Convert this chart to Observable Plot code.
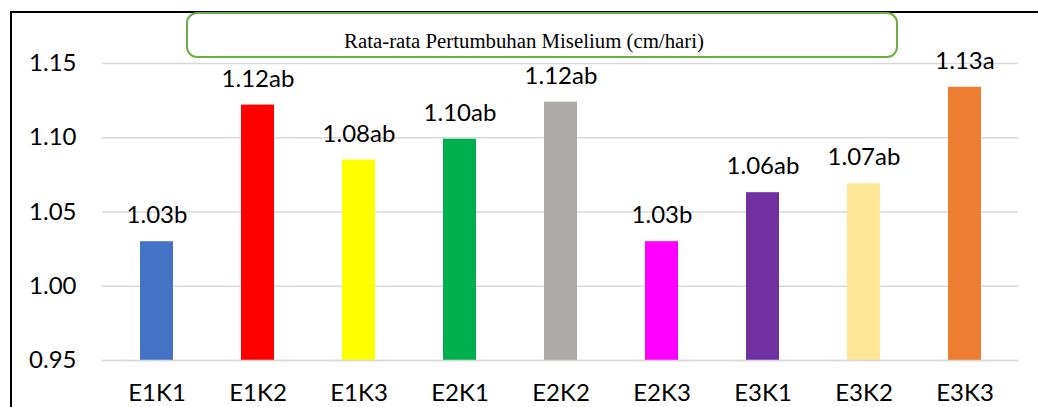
<!DOCTYPE html>
<html>
<head>
<meta charset="utf-8">
<script src="https://cdn.jsdelivr.net/npm/d3@7"></script>
<script src="https://cdn.jsdelivr.net/npm/@observablehq/plot@0.6"></script>
<style>
  html, body { margin: 0; padding: 0; background: #fff; }
  #wrap { position: relative; width: 1038px; height: 407px; overflow: hidden; }
  #border { position: absolute; left: 10px; top: 11px; width: 1100px; height: 500px; border: 2px solid #000; box-sizing: border-box; pointer-events: none; }
  #titlebox { position: absolute; left: 186px; top: 12px; width: 712px; height: 46px; border: 2.5px solid #70AD47; border-radius: 11px; box-sizing: border-box; background: #fff; }
  #title { position: absolute; left: 324px; top: 31px; width: 400px; text-align: center; font-family: "Liberation Serif", "Times New Roman", serif; font-size: 20.8px; color: #000; white-space: nowrap; line-height: 1; }
  #chart { position: absolute; left: 0; top: 0; }
</style>
</head>
<body>
<div id="wrap">
  <div id="chart"></div>
  <div id="border"></div>
  <div id="titlebox"></div>
  <div id="title">Rata-rata Pertumbuhan Miselium (cm/hari)</div>
</div>
<script>
const categories = ["E1K1", "E1K2", "E1K3", "E2K1", "E2K2", "E2K3", "E3K1", "E3K2", "E3K3"];
const values = [1.030, 1.122, 1.085, 1.099, 1.124, 1.030, 1.063, 1.069, 1.134];
const labels = ["1.03b", "1.12ab", "1.08ab", "1.10ab", "1.12ab", "1.03b", "1.06ab", "1.07ab", "1.13a"];
const colors = ["#4472C4", "#FF0000", "#FFFF00", "#00B050", "#AEAAAA", "#FF00FF", "#7030A0", "#FFE699", "#ED7D31"];
const yTicks = [0.95, 1.00, 1.05, 1.10, 1.15];

const data = categories.map((c, i) => ({cat: c, value: values[i], label: labels[i], color: colors[i]}));

const chart = Plot.plot({
  width: 1038,
  height: 407,
  marginLeft: 102,
  marginRight: 20,
  marginTop: 63,
  marginBottom: 47,
  style: {fontFamily: "Lato, Calibri, sans-serif", fontSize: "24px", color: "#000", background: "transparent"},
  x: {domain: categories, paddingInner: 0.676, paddingOuter: 0.338, label: null},
  y: {domain: [0.95, 1.15], label: null},
  marks: [
    Plot.gridY(yTicks, {stroke: "#D9D9D9", strokeOpacity: 1, strokeWidth: 1.5}),
    Plot.barY(data, {x: "cat", y1: 0.95, y2: "value", fill: "color"}),
    Plot.ruleY([0.95], {stroke: "#D9D9D9", strokeWidth: 1.5}),
    Plot.text(data, {x: "cat", y: "value", text: "label", dy: -26, fill: "#000", fontSize: 24}),
    Plot.axisY(yTicks, {tickFormat: d3.format(".2f"), tickSize: 0, tickPadding: 26, fontSize: 24, label: null}),
    Plot.axisX({tickSize: 0, tickPadding: 23, fontSize: 24, label: null})
  ]
});
document.getElementById("chart").appendChild(chart);
</script>
</body>
</html>
